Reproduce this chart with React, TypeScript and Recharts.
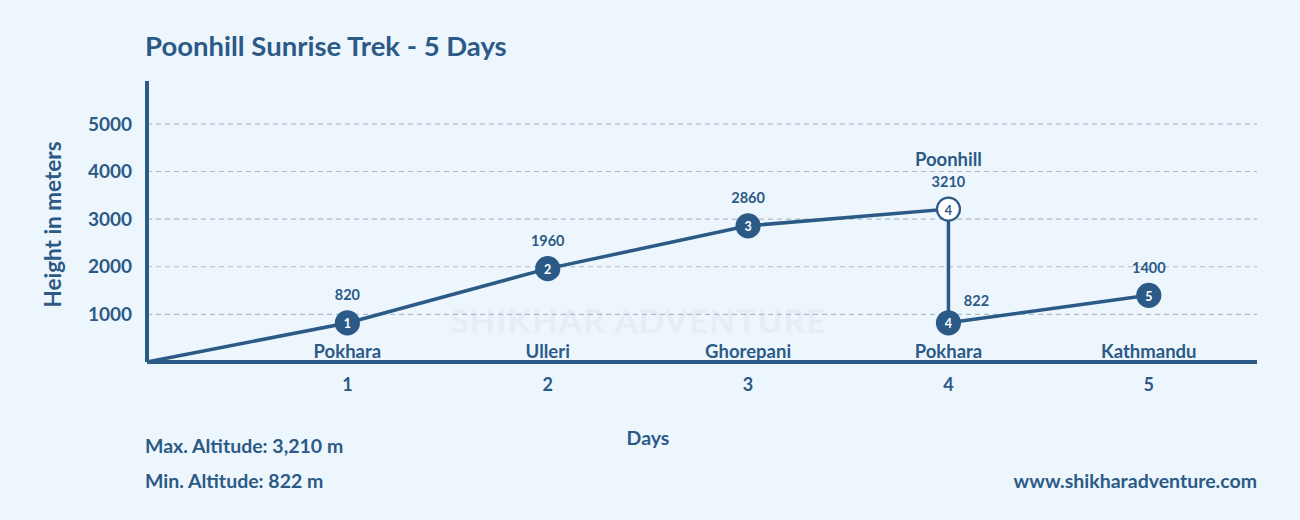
import { CartesianGrid, Label, Line, LineChart, XAxis, YAxis } from 'recharts';

const INK = '#2c5a87';
const BG = '#eef6fd';
const FONT = 'Lato, "Open Sans", sans-serif';

// itinerary
const days = [0, 1, 2, 3, 4, 4, 5];
const heights = [0, 820, 1960, 2860, 3210, 822, 1400];
const stops = ['', '1', '2', '3', '4', '4', '5'];
const places = ['', 'Pokhara', 'Ulleri', 'Ghorepani', 'Poonhill', 'Pokhara', 'Kathmandu'];

const dayTicks = [1, 2, 3, 4, 5];
const heightTicks = [1000, 2000, 3000, 4000, 5000];

const W = 1300;
const H = 520;
const TOP = 81;
const PLOT_BOTTOM = 362;
const AXIS_W = 147;
const X_AXIS_H = 40;

const data = days.map((d, i) => ({ day: d, height: heights[i], stop: stops[i], place: places[i] }));
const peak = Math.max(...heights);

function StopDot(props: any) {
    const { cx, cy, index, payload } = props;
    if (!payload.stop) return <g key={`dot-${index}`} />;
    const isPeak = payload.height === peak;
    const prev = data[index - 1];
    const descended = prev && prev.day === payload.day;
    const valX = descended ? cx + 28 : cx;
    const valY = descended ? cy - 22 : cy - 28;
    const placeY = isPeak ? cy - 50 : PLOT_BOTTOM - 11;
    return (
        <g key={`dot-${index}`} fontFamily={FONT} fontWeight={700}>
            <circle cx={cx} cy={cy} r={11.5} fill={isPeak ? '#ffffff' : INK} stroke={INK} strokeWidth={2.2} />
            <text x={cx} y={cy + 1} textAnchor="middle" dominantBaseline="central" fontSize={12.5} fill={isPeak ? INK : '#ffffff'}>
                {payload.stop}
            </text>
            <text x={valX} y={valY} textAnchor="middle" dominantBaseline="central" fontSize={14.5} fill={INK}>
                {payload.height}
            </text>
            <text x={cx} y={placeY} textAnchor="middle" dominantBaseline="central" fontSize={18.5} fill={INK}>
                {payload.place}
            </text>
        </g>
    );
}

function HeightTitle({ viewBox }: any) {
    const x = viewBox.x + 52;
    const y = viewBox.y + viewBox.height / 2 + 3;
    return (
        <text x={x} y={y} transform={`rotate(-90 ${x} ${y})`} textAnchor="middle" dominantBaseline="central"
            fontFamily={FONT} fontWeight={700} fontSize={22.5} fill={INK}>
            Height in meters
        </text>
    );
}

function DaysTitle({ viewBox }: any) {
    return (
        <text x={viewBox.x + 501} y={437} textAnchor="middle" dominantBaseline="central"
            fontFamily={FONT} fontWeight={700} fontSize={19.5} fill={INK}>
            Days
        </text>
    );
}

export default function App() {
    const textStyle = { position: 'absolute' as const, fontFamily: FONT, fontWeight: 700, color: INK, lineHeight: 1, whiteSpace: 'nowrap' as const };
    return (
        <div style={{ position: 'absolute', left: 0, top: 0, width: W, height: H, background: BG, overflow: 'hidden' }}>
            <div style={{ ...textStyle, left: 145, top: 32, fontSize: 27.5 }}>Poonhill Sunrise Trek - 5 Days</div>
            {/* faint watermark */}
            <div style={{ ...textStyle, left: 450, top: 304, fontSize: 33, color: '#e5edf5', letterSpacing: 1.5 }}>SHIKHAR ADVENTURE</div>
            <LineChart width={W} height={H} data={data} margin={{ top: TOP, right: W - 1257, bottom: H - PLOT_BOTTOM - X_AXIS_H, left: 0 }}
                style={{ position: 'absolute', left: 0, top: 0 }}>
                <CartesianGrid vertical={false} horizontalValues={heightTicks} stroke="#a9bccc" strokeDasharray="5 4" strokeWidth={1.2} />
                <XAxis type="number" dataKey="day" domain={[0, 5.54]} ticks={dayTicks} height={X_AXIS_H}
                    axisLine={{ stroke: INK, strokeWidth: 4 }} tickLine={false} tickMargin={10}
                    tick={{ fill: INK, fontSize: 18, fontWeight: 700, fontFamily: FONT }}>
                    <Label content={<DaysTitle />} />
                </XAxis>
                <YAxis type="number" domain={[0, 5900]} ticks={heightTicks} width={AXIS_W}
                    axisLine={{ stroke: INK, strokeWidth: 4 }} tickLine={false} tickMargin={9}
                    tick={{ fill: INK, fontSize: 19, fontWeight: 700, fontFamily: FONT }}>
                    <Label content={<HeightTitle />} />
                </YAxis>
                <Line type="linear" dataKey="height" stroke={INK} strokeWidth={3.5} dot={(p: any) => <StopDot {...p} />}
                    activeDot={false} isAnimationActive={false} />
            </LineChart>
            <div style={{ ...textStyle, left: 145, top: 436, fontSize: 19.5 }}>Max. Altitude: 3,210 m</div>
            <div style={{ ...textStyle, left: 145, top: 471, fontSize: 19.5 }}>Min. Altitude: 822 m</div>
            <div style={{ ...textStyle, right: W - 1257, top: 471, fontSize: 19.5 }}>www.shikharadventure.com</div>
        </div>
    );
}
